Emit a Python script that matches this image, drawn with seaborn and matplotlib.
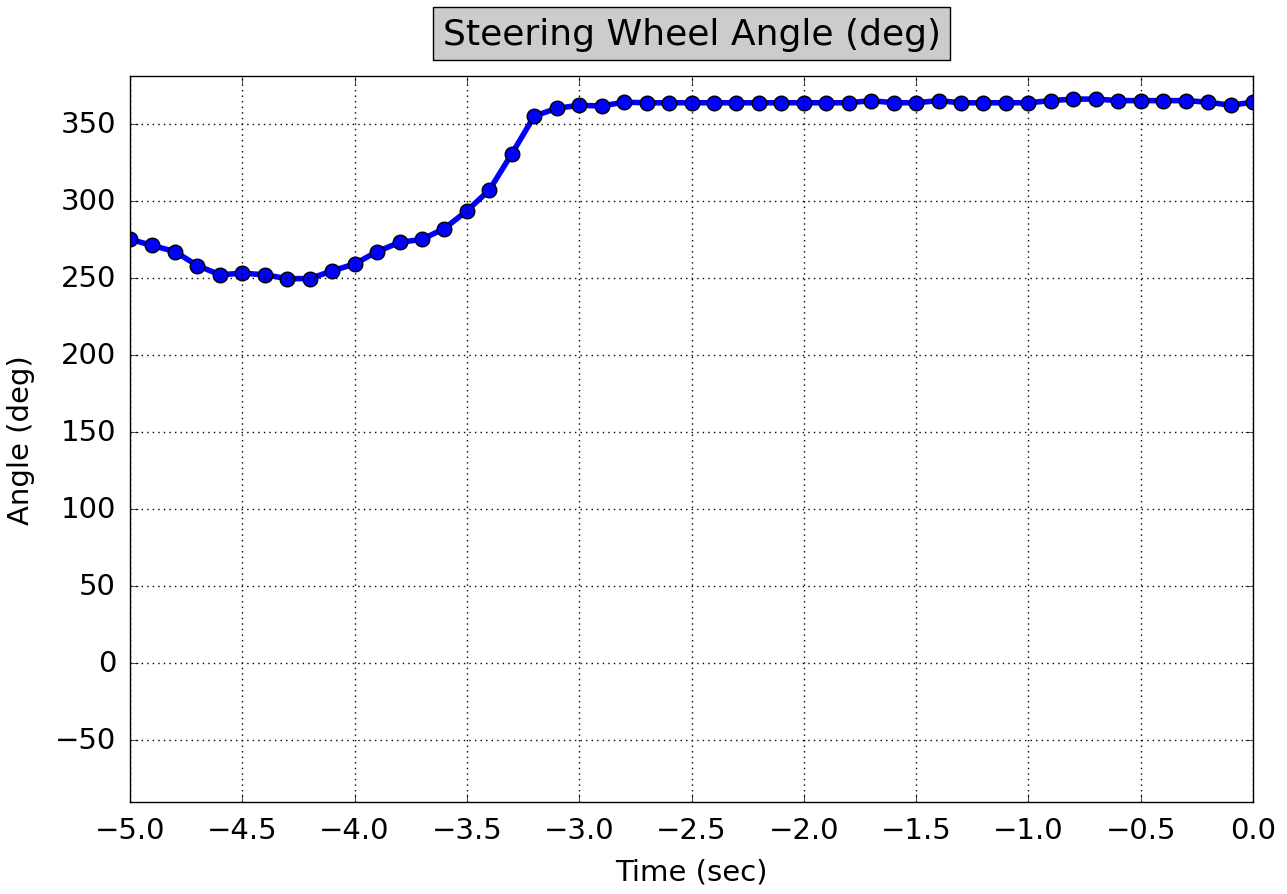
import numpy as np
import pandas as pd
import matplotlib
matplotlib.use('Agg')
import matplotlib.pyplot as plt
import seaborn as sns

# Time axis (sec) and steering wheel angle
time_sec = np.round(np.arange(-5.0, 0.001, 0.1), 1)
angle_deg = [275, 271, 267, 258, 252, 253, 252, 249.5, 249.5, 254.5,
             259, 267, 273, 275, 282, 293.5, 307, 330.5, 355, 360,
             362, 361.5, 364, 363.6, 363.6, 363.6, 363.6, 363.6, 363.6, 363.6,
             363.6, 363.6, 363.6, 365, 363.6, 363.6, 365, 363.6, 363.6, 363.6,
             363.6, 365, 366, 366, 365, 365, 365, 365, 364, 362, 364]

df = pd.DataFrame({'Time (sec)': time_sec, 'Angle (deg)': angle_deg})

plt.style.use('classic')
plt.rcParams['font.family'] = ['DejaVu Sans']

fig = plt.figure(figsize=(12.87, 8.95), dpi=100, facecolor='white')
ax = fig.add_axes([0.101, 0.103, 0.8726, 0.811])

sns.lineplot(x='Time (sec)', y='Angle (deg)', data=df, ax=ax, color='b',
             linewidth=4, marker='o', markersize=10.5, markeredgecolor='black',
             markeredgewidth=1, estimator=None)

ax.set_xlim(-5.0, 0.0)
ax.set_ylim(-90, 381)
ax.set_xticks(np.arange(-5.0, 0.01, 0.5))
ax.set_yticks(np.arange(-50, 351, 50))
ax.tick_params(labelsize=21, direction='in', length=6, top=True, right=True, pad=10)
ax.grid(True, color='black', linestyle=':', linewidth=1)
ax.set_xlabel('Time (sec)', fontsize=21, labelpad=10)
ax.set_ylabel('Angle (deg)', fontsize=21, labelpad=14)
ax.set_title('Steering Wheel Angle (deg)', fontsize=26, y=1.035,
             bbox=dict(facecolor='#cccccc', edgecolor='black', pad=7))

fig.savefig('out.png', dpi=100, facecolor='white')
